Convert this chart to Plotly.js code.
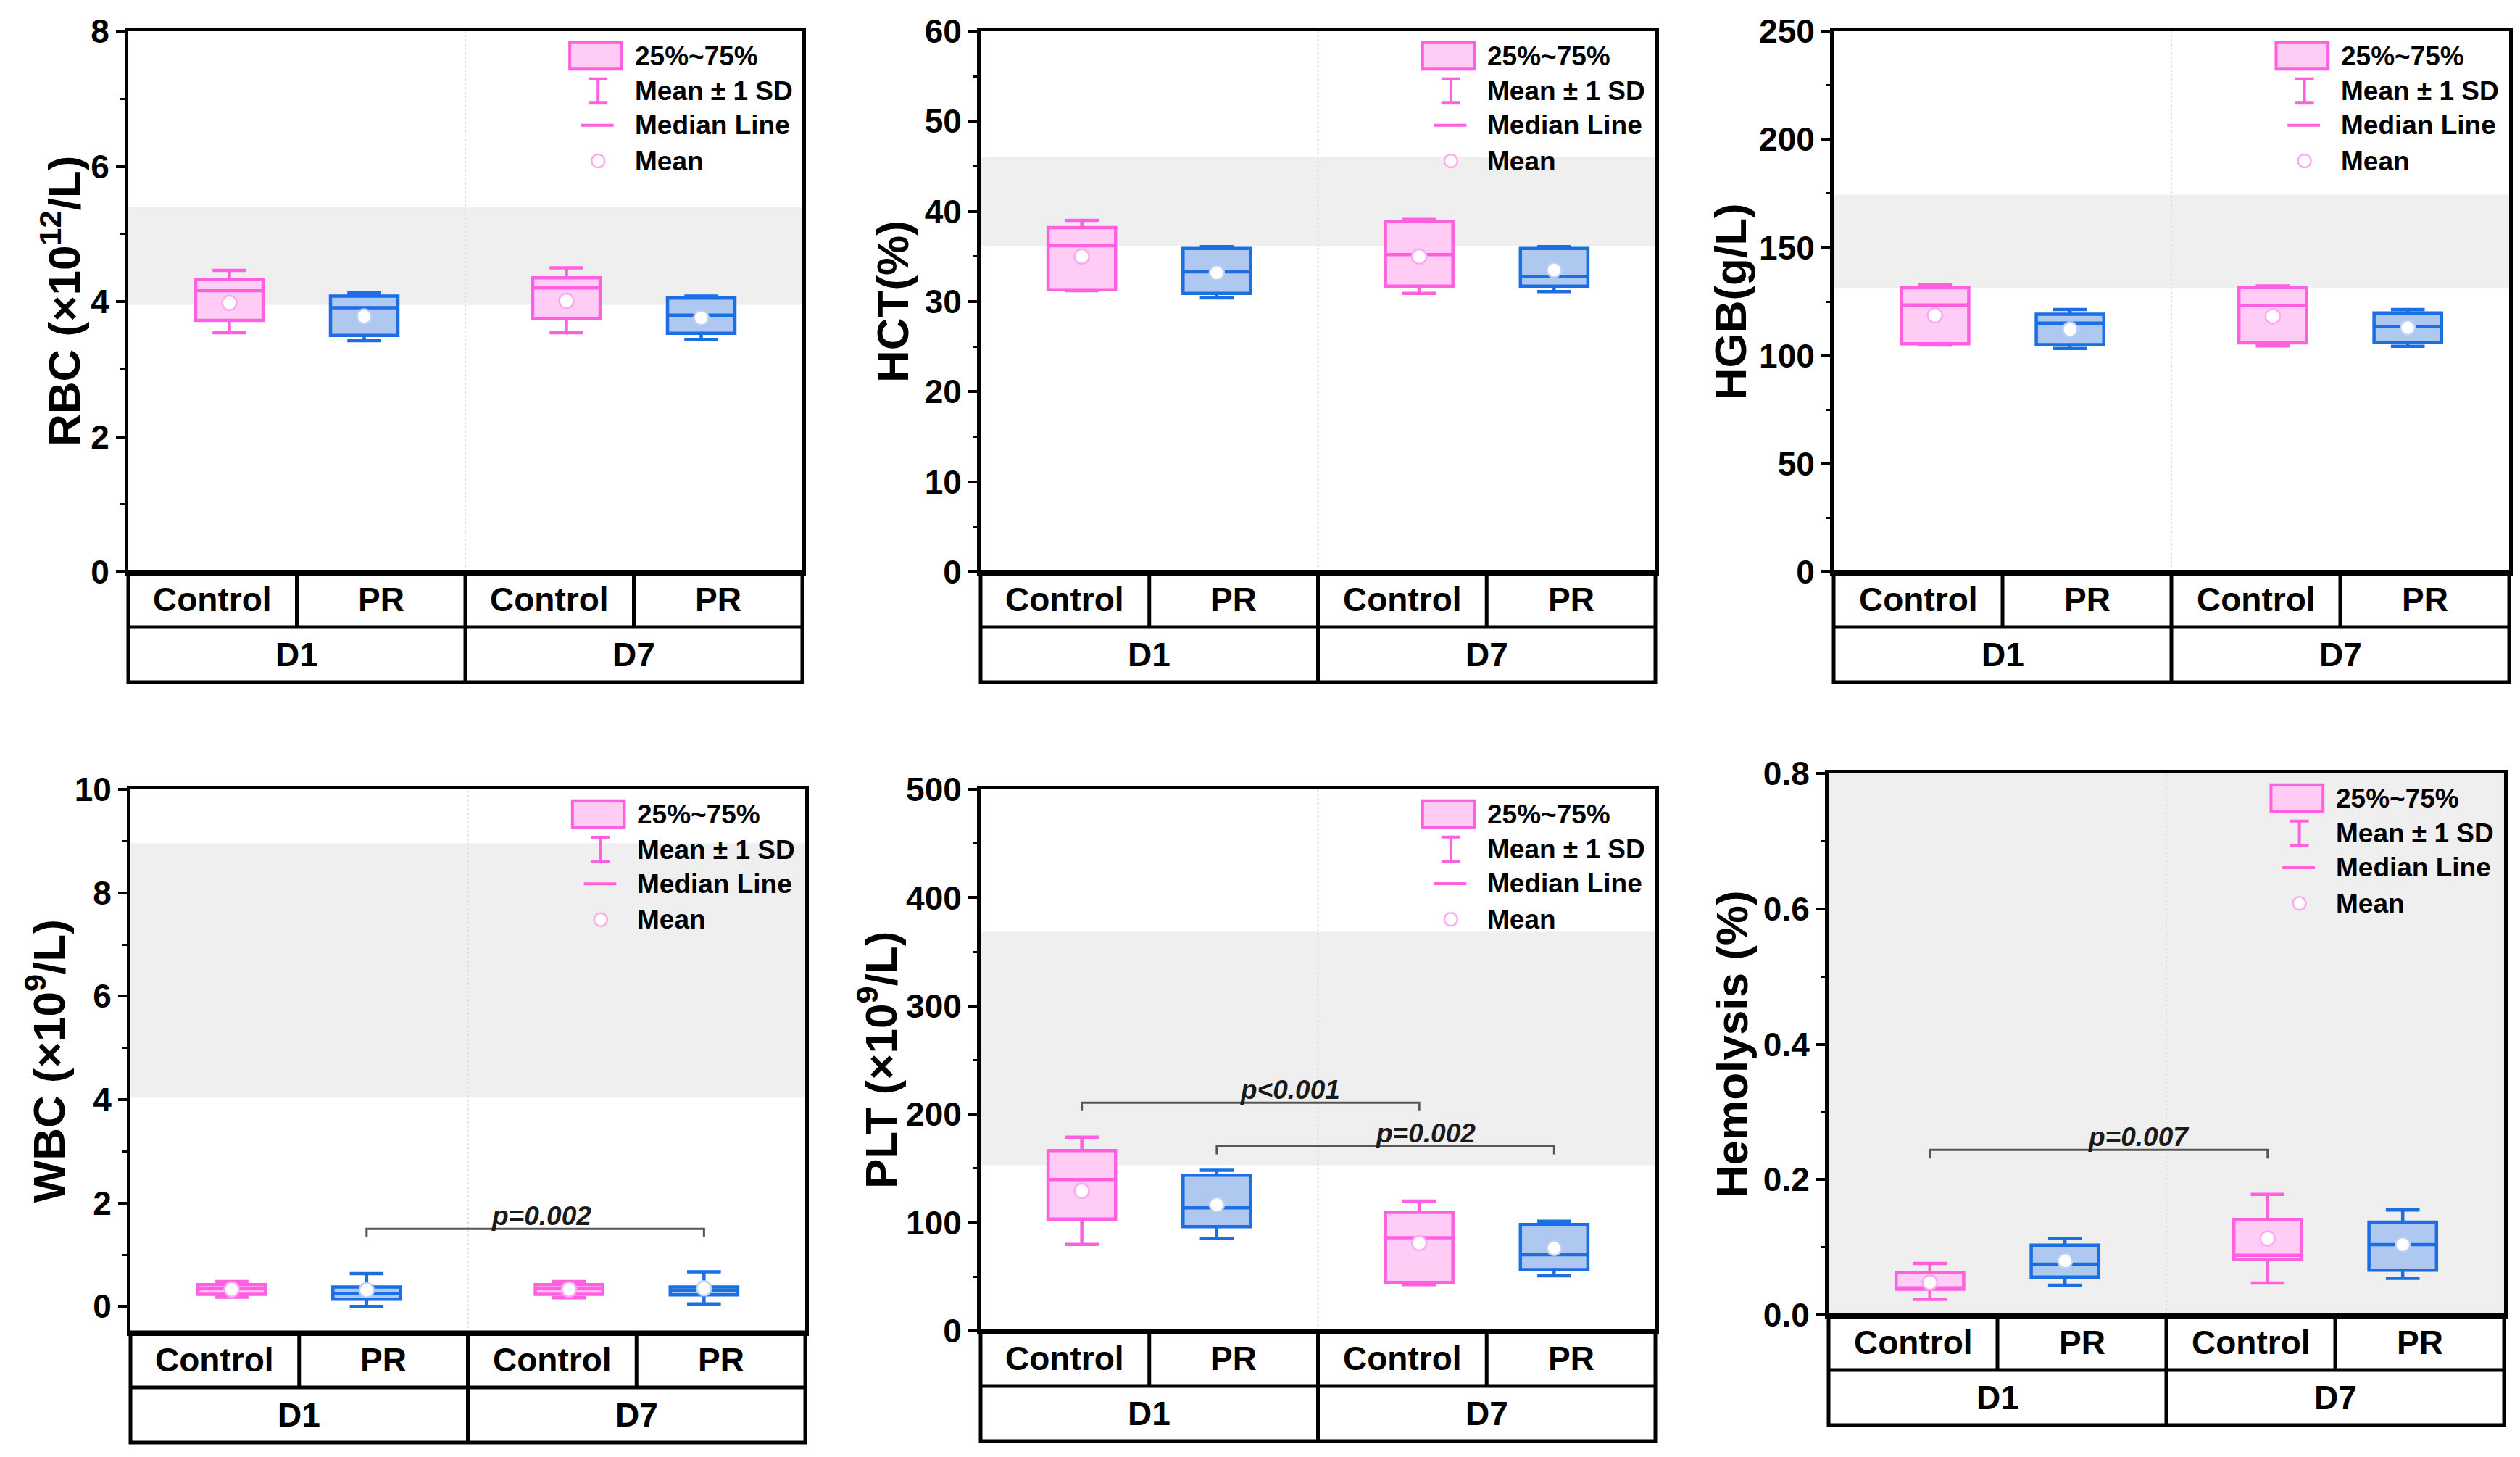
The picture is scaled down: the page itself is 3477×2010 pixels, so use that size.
<!DOCTYPE html>
<html><head><meta charset="utf-8">
<script src="https://cdn.plot.ly/plotly-3.0.1.min.js"></script>
<style>html,body{margin:0;padding:0;background:#fff}</style>
</head><body><div id="chart" style="width:3477px;height:2010px"></div>
<script>
// ---------------- DATA ----------------
const groups = ['Control', 'PR', 'Control', 'PR'];
const days = ['D1', 'D7'];
const boxPos = [0.6, 1.4, 2.6, 3.4];   // Control D1, PR D1, Control D7, PR D7

const legendLabels = ['25%~75%', 'Mean ± 1 SD', 'Median Line', 'Mean'];

const titles = ['RBC (×10<sup>12</sup>/L)', 'HCT(%)', 'HGB(g/L)',
                'WBC (×10<sup>9</sup>/L)', 'PLT (×10<sup>9</sup>/L)', 'Hemolysis (%)'];

// RBC
const rbcQ1   = [3.72, 3.50, 3.75, 3.53];
const rbcMed  = [4.16, 3.91, 4.20, 3.80];
const rbcQ3   = [4.33, 4.08, 4.35, 4.05];
const rbcLo   = [3.54, 3.42, 3.54, 3.44];
const rbcHi   = [4.46, 4.13, 4.50, 4.08];
const rbcMean = [3.98, 3.78, 4.01, 3.76];
const rbcRef  = [3.95, 5.40];
// HCT
const hctQ1   = [31.3, 30.9, 31.7, 31.7];
const hctMed  = [36.2, 33.3, 35.2, 32.8];
const hctQ3   = [38.2, 35.9, 38.9, 35.9];
const hctLo   = [31.2, 30.4, 30.9, 31.1];
const hctHi   = [39.0, 36.1, 39.1, 36.1];
const hctMean = [35.0, 33.2, 35.0, 33.5];
const hctRef  = [36.2, 46.0];
// HGB
const hgbQ1   = [105.5, 105.1, 105.9, 106.1];
const hgbMed  = [123.4, 115.0, 123.2, 113.5];
const hgbQ3   = [131.4, 119.1, 131.6, 119.7];
const hgbLo   = [104.9, 103.3, 104.5, 104.3];
const hgbHi   = [132.6, 121.3, 132.2, 121.3];
const hgbMean = [118.6, 112.1, 118.2, 112.9];
const hgbRef  = [131.4, 174.4];
// WBC
const wbcQ1   = [0.235, 0.14, 0.235, 0.226];
const wbcMed  = [0.34, 0.25, 0.34, 0.31];
const wbcQ3   = [0.42, 0.376, 0.42, 0.376];
const wbcLo   = [0.18, 0.0, 0.17, 0.05];
const wbcHi   = [0.48, 0.635, 0.48, 0.67];
const wbcMean = [0.33, 0.315, 0.33, 0.35];
const wbcRef  = [4.04, 8.96];
// PLT
const pltQ1   = [103.3, 96.3, 44.6, 56.6];
const pltMed  = [139.7, 113.6, 86.0, 70.2];
const pltQ3   = [166.5, 143.8, 109.5, 98.3];
const pltLo   = [79.8, 85.1, 42.6, 50.8];
const pltHi   = [178.9, 148.3, 119.8, 101.2];
const pltMean = [129.3, 116.5, 81.0, 76.4];
const pltRef  = [153.0, 368.6];
// Hemolysis
const hemQ1   = [0.038, 0.056, 0.082, 0.066];
const hemMed  = [0.040, 0.075, 0.088, 0.104];
const hemQ3   = [0.063, 0.103, 0.141, 0.137];
const hemLo   = [0.023, 0.044, 0.047, 0.054];
const hemHi   = [0.076, 0.113, 0.178, 0.155];
const hemMean = [0.048, 0.080, 0.113, 0.104];
const hemRef  = [0.0, 0.8];

// significance brackets
const wbcSigFrom = [1], wbcSigTo = [3], wbcSigY = [1.50], wbcSigTick = [1.34], wbcSigText = ['p=0.002'];
const pltSigFrom = [0, 1], pltSigTo = [2, 3], pltSigY = [210.7, 170.7], pltSigTick = [203.7, 163.0], pltSigText = ['p<0.001', 'p=0.002'];
const hemSigFrom = [0], hemSigTo = [2], hemSigY = [0.244], hemSigTick = [0.231], hemSigText = ['p=0.007'];
const noSig = [];

// axis ranges / ticks
const yRanges = [[0, 8], [0, 60], [0, 250], [-0.5, 10], [0, 500], [0, 0.8]];
const yDticks = [2, 10, 50, 2, 100, 0.2];

// ---------------- LAYOUT / STYLE ----------------
const W = 3477, H = 2010;
const FONT = 'Liberation Sans, Arial, Helvetica, sans-serif';
const PINK = '#FF5FE1', PINK_FILL = '#FFCCF5', PINK_PALE = '#FFA8EE';
const BLUE = '#1B6FE3', BLUE_FILL = '#AFC8F0', BLUE_PALE = '#BBD0F2';

const px = [
  {L: 177, R: 1107, T: 43, B: 789, tx: -0.100, pxs: 0},
  {L: 1353, R: 2284, T: 43, B: 789, tx: -0.130, pxs: 0},
  {L: 2530, R: 3462, T: 43, B: 789, tx: -0.152, pxs: 0},
  {L: 180, R: 1111, T: 1089, B: 1838, tx: -0.126, pxs: 8},
  {L: 1353, R: 2284, T: 1089, B: 1836, tx: -0.153, pxs: 55},
  {L: 2523, R: 3455, T: 1067, B: 1814, tx: -0.143, pxs: 55}
];

const metrics = [
  {q1: rbcQ1, med: rbcMed, q3: rbcQ3, lo: rbcLo, hi: rbcHi, mean: rbcMean, ref: rbcRef, sf: noSig},
  {q1: hctQ1, med: hctMed, q3: hctQ3, lo: hctLo, hi: hctHi, mean: hctMean, ref: hctRef, sf: noSig},
  {q1: hgbQ1, med: hgbMed, q3: hgbQ3, lo: hgbLo, hi: hgbHi, mean: hgbMean, ref: hgbRef, sf: noSig},
  {q1: wbcQ1, med: wbcMed, q3: wbcQ3, lo: wbcLo, hi: wbcHi, mean: wbcMean, ref: wbcRef,
   sf: wbcSigFrom, st: wbcSigTo, sy: wbcSigY, stk: wbcSigTick, stx: wbcSigText},
  {q1: pltQ1, med: pltMed, q3: pltQ3, lo: pltLo, hi: pltHi, mean: pltMean, ref: pltRef,
   sf: pltSigFrom, st: pltSigTo, sy: pltSigY, stk: pltSigTick, stx: pltSigText},
  {q1: hemQ1, med: hemMed, q3: hemQ3, lo: hemLo, hi: hemHi, mean: hemMean, ref: hemRef,
   sf: hemSigFrom, st: hemSigTo, sy: hemSigY, stk: hemSigTick, stx: hemSigText}
];

const data = [];
const shapes = [];
const annotations = [];
const layout = {
  width: W, height: H,
  margin: {l: 0, r: 0, t: 0, b: 0},
  paper_bgcolor: '#fff', plot_bgcolor: '#fff',
  showlegend: false,
  font: {family: FONT, color: '#000'},
  shapes: shapes, annotations: annotations
};

const ctrlIdx = [0, 2], prIdx = [1, 3];
const pick = (arr, idx) => idx.map(i => arr[i]);

// boxes first (drawn below scatter layers)
metrics.forEach((m, i) => {
  const s = i === 0 ? '' : String(i + 1);
  [[ctrlIdx, PINK, PINK_FILL], [prIdx, BLUE, BLUE_FILL]].forEach(([idx, lc, fc]) => {
    data.push({
      type: 'box', xaxis: 'x' + s, yaxis: 'y' + s,
      x: pick(boxPos, idx),
      q1: pick(m.q1, idx), median: pick(m.med, idx), q3: pick(m.q3, idx),
      lowerfence: pick(m.lo, idx), upperfence: pick(m.hi, idx),
      width: 0.4, whiskerwidth: 0.5, boxpoints: false,
      line: {color: lc, width: 4.5}, fillcolor: fc,
      hoverinfo: 'skip', showlegend: false
    });
  });
});

metrics.forEach((m, i) => {
  const s = i === 0 ? '' : String(i + 1);
  const p = px[i];
  const xa = 'x' + s, ya = 'y' + s;
  const xd = xa + ' domain', yd = ya + ' domain';
  const plotH = p.B - p.T;
  const rowH = 76 / plotH;

  // mean markers
  [[ctrlIdx, PINK_PALE], [prIdx, BLUE_PALE]].forEach(([idx, oc]) => {
    data.push({
      type: 'scatter', mode: 'markers', xaxis: xa, yaxis: ya,
      x: pick(boxPos, idx), y: pick(m.mean, idx),
      marker: {symbol: 'circle', size: 20, color: '#fff', line: {color: oc, width: 2.5}},
      hoverinfo: 'skip', showlegend: false, cliponaxis: false
    });
  });

  // significance brackets
  m.sf.forEach((f, k) => {
    const x0 = boxPos[f], x1 = boxPos[m.st[k]];
    data.push({
      type: 'scatter', mode: 'lines', xaxis: xa, yaxis: ya,
      x: [x0, x0, x1, x1], y: [m.stk[k], m.sy[k], m.sy[k], m.stk[k]],
      line: {color: '#555', width: 3}, hoverinfo: 'skip', showlegend: false
    });
    annotations.push({
      xref: xa, yref: ya, x: (x0 + x1) / 2, y: m.sy[k],
      text: '<i>' + m.stx[k] + '</i>', showarrow: false,
      xanchor: 'center', yanchor: 'bottom', yshift: -5, xshift: p.pxs,
      font: {family: FONT, size: 37, weight: 'bold', color: '#1a1a1a'}
    });
  });

  // axes
  const ticks = yDticks[i];
  layout['xaxis' + s] = {
    domain: [p.L / W, p.R / W], range: [0, 4], anchor: ya,
    showline: true, mirror: true, linewidth: 5, linecolor: '#000',
    showgrid: false, zeroline: false, showticklabels: false, ticks: '', fixedrange: true
  };
  layout['yaxis' + s] = {
    domain: [1 - p.B / H, 1 - p.T / H], range: yRanges[i], anchor: xa,
    tick0: 0, dtick: ticks, tickformat: i === 5 ? '.1f' : '',
    ticks: 'outside', ticklen: 12, tickwidth: 4, tickcolor: '#000',
    minor: {tick0: 0, dtick: ticks / 2, ticks: 'outside', ticklen: 6, tickwidth: 3, tickcolor: '#000', showgrid: false},
    showline: true, mirror: true, linewidth: 5, linecolor: '#000',
    showgrid: false, zeroline: false, fixedrange: true,
    tickfont: {family: FONT, size: 46, color: '#000', weight: 'bold'}
  };

  // reference band + center divider
  shapes.push({type: 'rect', xref: xd, yref: ya, x0: 0, x1: 1, y0: m.ref[0], y1: m.ref[1],
               fillcolor: '#EFEFEF', line: {width: 0}, layer: 'below'});
  shapes.push({type: 'line', xref: xd, yref: yd, x0: 0.5, x1: 0.5, y0: 0, y1: 1,
               line: {color: '#DDDDDD', width: 2, dash: 'dot'}, layer: 'below'});

  // y title
  annotations.push({
    xref: xd, yref: yd, x: p.tx, y: 0.5, text: titles[i], textangle: -90,
    showarrow: false, xanchor: 'center', yanchor: 'middle',
    font: {family: FONT, size: 62, weight: 'bold', color: '#000'}
  });

  // category table
  const tl = {color: '#000', width: 5};
  shapes.push({type: 'rect', xref: xd, yref: yd, x0: 0, x1: 1, y0: -2 * rowH, y1: 0, line: tl});
  shapes.push({type: 'line', xref: xd, yref: yd, x0: 0, x1: 1, y0: -rowH, y1: -rowH, line: tl});
  shapes.push({type: 'line', xref: xd, yref: yd, x0: 0.5, x1: 0.5, y0: 0, y1: -2 * rowH, line: tl});
  [0.25, 0.75].forEach(xx => shapes.push({type: 'line', xref: xd, yref: yd, x0: xx, x1: xx, y0: 0, y1: -rowH, line: tl}));
  groups.forEach((g, k) => annotations.push({
    xref: xd, yref: yd, x: 0.125 + 0.25 * k, y: -rowH / 2, text: g, showarrow: false,
    xanchor: 'center', yanchor: 'middle', font: {family: FONT, size: 46, weight: 'bold', color: '#000'}
  }));
  days.forEach((d, k) => annotations.push({
    xref: xd, yref: yd, x: 0.25 + 0.5 * k, y: -1.5 * rowH, text: d, showarrow: false,
    xanchor: 'center', yanchor: 'middle', font: {family: FONT, size: 46, weight: 'bold', color: '#000'}
  }));

  // legend (drawn keys)
  const plotW = p.R - p.L;
  const cx = 0.697, capHalf = 13 / plotW;
  const rowsY = [0.954, 0.889, 0.826, 0.760];
  shapes.push({type: 'rect', xref: xd, yref: yd, x0: 0.655, x1: 0.732, y0: 0.930, y1: 0.979,
               fillcolor: PINK_FILL, line: {color: PINK, width: 4}});
  shapes.push({type: 'line', xref: xd, yref: yd, x0: cx, x1: cx, y0: 0.867, y1: 0.912, line: {color: PINK, width: 4}});
  shapes.push({type: 'line', xref: xd, yref: yd, x0: cx - capHalf, x1: cx + capHalf, y0: 0.867, y1: 0.867, line: {color: PINK, width: 4}});
  shapes.push({type: 'line', xref: xd, yref: yd, x0: cx - capHalf, x1: cx + capHalf, y0: 0.912, y1: 0.912, line: {color: PINK, width: 4}});
  shapes.push({type: 'line', xref: xd, yref: yd, x0: 0.672, x1: 0.720, y0: rowsY[2], y1: rowsY[2], line: {color: PINK, width: 4}});
  shapes.push({type: 'circle', xref: xd, yref: yd, xsizemode: 'pixel', ysizemode: 'pixel',
               xanchor: cx, yanchor: rowsY[3], x0: -9, x1: 9, y0: -9, y1: 9,
               fillcolor: '#fff', line: {color: PINK_PALE, width: 2.5}});
  legendLabels.forEach((t, k) => annotations.push({
    xref: xd, yref: yd, x: 0.749, y: rowsY[k], text: t, showarrow: false,
    xanchor: 'left', yanchor: 'middle', font: {family: FONT, size: 37, weight: 'bold', color: '#000'}
  }));
});

Plotly.newPlot('chart', data, layout, {staticPlot: true, displayModeBar: false});
</script></body></html>
